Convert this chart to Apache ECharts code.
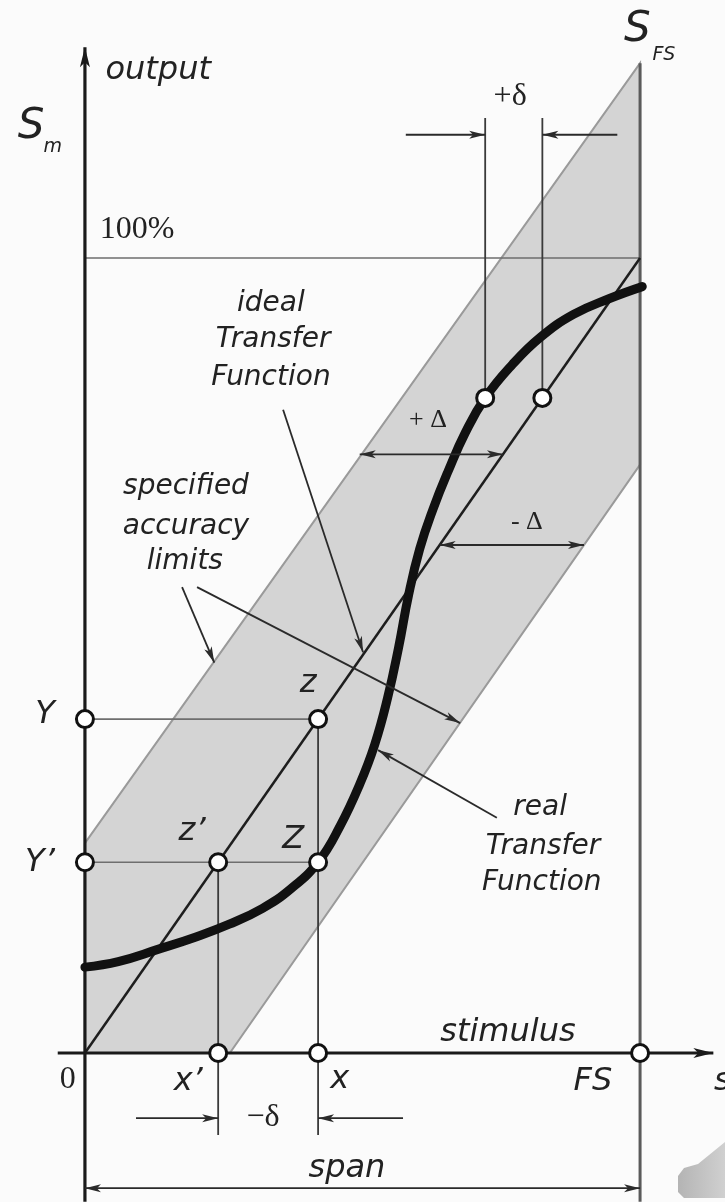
<!DOCTYPE html>
<html>
<head>
<meta charset="utf-8">
<title>Transfer function and accuracy limits</title>
<script src="https://cdn.jsdelivr.net/npm/echarts@6/dist/echarts.min.js"></script>
<style>
  html, body { margin: 0; padding: 0; background: #fbfbfb; }
  #chart { width: 725px; height: 1202px; }
</style>
</head>
<body>
<div id="chart"></div>
<script>
// x = stimulus in % of FS, y = output in % of S_FS
const bandLimits = [[0, 0], [0, 26.4], [100, 124.5], [100, 74], [26.1, 0]]
const idealLine = [[0, 0], [100, 100]]
const realCurve = [
  [0, 10.8], [6, 11.5], [13, 13], [20, 14.6], [26, 16.2], [32, 18.2], [37, 20.6],
  [42, 24], [46, 28.6], [49.5, 33.8], [52.2, 38.8], [54.5, 44.6], [56.5, 51], [58.3, 57.6],
  [60.3, 63.4], [62.7, 68.4], [65.5, 73.3], [68.5, 78], [72.1, 82.4], [77, 86.6],
  [82, 90], [88, 92.9], [94.5, 94.9], [100.4, 96.4]
]
const markers = [
  [0, 42], [0, 24], [42, 42], [24, 24], [42, 24], [24, 0], [42, 0], [100, 0],
  [72.1, 82.4], [82.4, 82.4]
]
// segments [x1, y1, x2, y2]
const axisLines = [[0, -18.7, 0, 126.5], [-4.9, 0, 113.2, 0]]
const fsLine = [[100, 124.5, 100, -18.7]]
const gridLines = [[0, 100, 100, 100], [0, 42, 42, 42], [0, 24, 42, 24]]
const dropLines = [[42, 42, 42, -10.3], [24, 24, 24, -10.3], [72.1, 82.4, 72.1, 117.6], [82.4, 82.4, 82.4, 117.6]]
const pointers = [
  [57.8, 115.5, 72.1, 115.5], [95.9, 115.5, 82.4, 115.5],
  [9.2, -8.2, 24, -8.2], [57.3, -8.2, 42, -8.2],
  [35.7, 80.9, 50.1, 50.4], [17.5, 58.6, 23.3, 49.1], [20.2, 58.6, 67.6, 41.5],
  [74.2, 29.6, 52.8, 38.1]
]
const spans = [[0, -17, 100, -17], [49.5, 75.3, 75.3, 75.3], [63.9, 63.9, 89.9, 63.9]]

// labels [x, y, text]
const sansLabels = [
  [13.2, 123.6, 'output'], [76.2, 2.6, 'stimulus'], [47.2, -14.5, 'span'],
  [-7.2, 42.5, 'Y'], [-8.1, 23.9, 'Y’'], [40.2, 46.5, 'z'], [19.3, 27.8, 'z’'], [37.5, 26.8, 'Z'],
  [18.6, -3.6, 'x’'], [45.9, -3.4, 'x'], [91.5, -3.6, 'FS'], [114.8, -3.6, 's']
]
const noteLabels = [
  [33.5, 94.3, 'ideal'], [33.9, 89.7, 'Transfer'], [33.5, 84.9, 'Function'],
  [18.2, 71.2, 'specified'], [18.2, 66.2, 'accuracy'], [18.0, 61.8, 'limits'],
  [82.0, 30.9, 'real'], [82.5, 25.9, 'Transfer'], [82.3, 21.4, 'Function']
]
const serifLabels = [[9.4, 103.6, '100%'], [-3.1, -3.4, '0'], [76.6, 120.3, '+δ'], [32.1, -8.1, '−δ']]
const deltaLabels = [[61.8, 79.6, '+ Δ'], [79.6, 66.8, '- Δ']]
const bigS = [[99.5, 128.7, 'S'], [-9.7, 116.5, 'S']]
const subLabels = [[104.3, 125.5, 'FS'], [-5.8, 114.0, 'm']]

const chart = echarts.init(document.getElementById('chart'))

// barbed arrow head, tip at "tip", pointing away from "from"
function head(tip, from, len, half, color) {
  const dx = tip[0] - from[0]
  const dy = tip[1] - from[1]
  const d = Math.hypot(dx, dy) || 1
  const ux = dx / d, uy = dy / d
  const bx = tip[0] - ux * len, by = tip[1] - uy * len
  return {
    type: 'polygon',
    shape: { points: [tip, [bx - uy * half, by + ux * half], [tip[0] - ux * len * 0.75, tip[1] - uy * len * 0.75], [bx + uy * half, by - ux * half]] },
    style: { fill: color }
  }
}

function segments(data, color, width, heads, z, hl, hw) {
  return {
    type: 'custom',
    coordinateSystem: 'cartesian2d',
    silent: true,
    z: z,
    encode: { x: [0, 2], y: [1, 3] },
    data: data,
    renderItem: (params, api) => {
      const a = api.coord([api.value(0), api.value(1)])
      const b = api.coord([api.value(2), api.value(3)])
      const children = [{
        type: 'line',
        shape: { x1: a[0], y1: a[1], x2: b[0], y2: b[1] },
        style: { stroke: color, lineWidth: width }
      }]
      if (heads >= 1) children.push(head(b, a, hl || 15, hw || 4, color))
      if (heads === 2) children.push(head(a, b, hl || 15, hw || 4, color))
      return { type: 'group', children: children }
    }
  }
}

function texts(data, font, z) {
  return {
    type: 'custom',
    coordinateSystem: 'cartesian2d',
    silent: true,
    z: z || 10,
    encode: { x: 0, y: 1 },
    data: data.map(d => [d[0], d[1]]),
    renderItem: (params, api) => {
      const p = api.coord([api.value(0), api.value(1)])
      return {
        type: 'text',
        x: p[0],
        y: p[1],
        style: Object.assign({
          text: data[params.dataIndex][2],
          fill: '#222',
          align: 'center',
          verticalAlign: 'middle'
        }, font)
      }
    }
  }
}

const option = {
  backgroundColor: '#fbfbfb',
  animation: false,
  grid: { left: 0, right: 0, top: 0, bottom: 0 },
  xAxis: { type: 'value', min: -15.3, max: 115.3, show: false },
  yAxis: { type: 'value', min: -18.74, max: 132.45, show: false },
  graphic: [{
    type: 'polygon',
    shape: { points: [[678, 1176], [684, 1168], [698, 1164], [725, 1142], [725, 1198], [684, 1198], [678, 1192]] },
    style: {
      fill: new echarts.graphic.LinearGradient(0, 0, 1, 0, [
        { offset: 0, color: '#b4b4b4' },
        { offset: 1, color: '#d0d0d0' }
      ])
    },
    z: 1
  }],
  series: [
    {
      type: 'custom',
      coordinateSystem: 'cartesian2d',
      silent: true,
      z: 1,
      data: [0],
      renderItem: (params, api) => ({
        type: 'polygon',
        shape: { points: bandLimits.map(p => api.coord(p)) },
        style: { fill: '#d4d4d4', stroke: '#9a9a9a', lineWidth: 2 }
      })
    },
    segments(gridLines, '#6e6e6e', 1.6, 0, 2),
    segments(fsLine, '#5a5a5a', 3, 0, 2),
    segments(dropLines, '#3a3a3a', 1.8, 0, 3),
    {
      type: 'line',
      data: idealLine,
      symbol: 'none',
      silent: true,
      z: 3,
      lineStyle: { color: '#1e1e1e', width: 2.5 }
    },
    segments(axisLines, '#1a1a1a', 3.2, 1, 4, 20, 5),
    segments(pointers, '#2a2a2a', 1.8, 1, 6, 16, 4),
    segments(spans, '#2a2a2a', 1.8, 2, 6, 16, 4),
    {
      type: 'line',
      data: realCurve,
      smooth: 0.45,
      symbol: 'none',
      silent: true,
      z: 5,
      lineStyle: { color: '#111', width: 9, cap: 'round', join: 'round' }
    },
    {
      type: 'scatter',
      data: markers,
      symbol: 'circle',
      symbolSize: 17,
      silent: true,
      z: 8,
      itemStyle: { color: '#fff', borderColor: '#111', borderWidth: 3, opacity: 1 }
    },
    texts(sansLabels, { fontFamily: 'DejaVu Sans', fontStyle: 'italic', fontSize: 32 }),
    texts(noteLabels, { fontFamily: 'DejaVu Sans', fontStyle: 'italic', fontSize: 28 }),
    texts(serifLabels, { fontFamily: 'Liberation Serif', fontSize: 32 }),
    texts(deltaLabels, { fontFamily: 'Liberation Serif', fontSize: 26 }),
    texts(bigS, { fontFamily: 'DejaVu Sans', fontStyle: 'italic', fontSize: 42 }),
    texts(subLabels, { fontFamily: 'DejaVu Sans', fontStyle: 'italic', fontSize: 19 })
  ]
}

chart.setOption(option)
</script>
</body>
</html>
